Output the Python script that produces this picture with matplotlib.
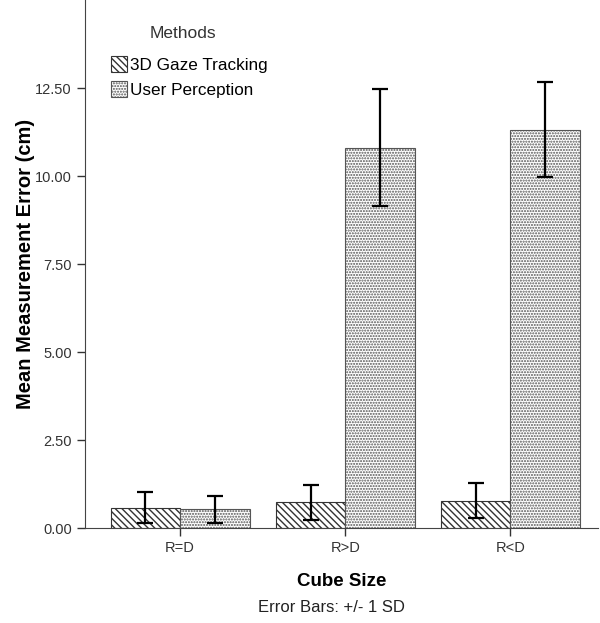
import matplotlib
matplotlib.use("Agg")
import matplotlib.pyplot as plt
import numpy as np

plt.rcParams['font.family'] = ['Liberation Sans', 'DejaVu Sans']
plt.rcParams['hatch.linewidth'] = 1.0

groups = ["R=D", "R>D", "R<D"]
methods = ["3D Gaze Tracking", "User Perception"]
gaze_mean = [0.58, 0.73, 0.78]
gaze_sd = [0.45, 0.49, 0.50]
user_mean = [0.53, 10.80, 11.32]
user_sd = [0.38, 1.66, 1.35]
yticks = [0.0, 2.5, 5.0, 7.5, 10.0, 12.5]

fig = plt.figure(figsize=(6.0, 6.23), dpi=100)
ax = fig.add_axes([85 / 600, 95 / 623, 513 / 600, 528 / 623])

x = np.arange(len(groups))
w = 0.42
ax.bar(x - w / 2, gaze_mean, w, color="white", edgecolor="#333333",
       hatch="\\\\\\\\\\", linewidth=0.8, label=methods[0])
ax.bar(x + w / 2, user_mean, w, color="white", edgecolor="#555555",
       hatch="......", linewidth=0.8, label=methods[1])
ax.errorbar(x - w / 2, gaze_mean, yerr=gaze_sd, fmt="none", ecolor="black",
            elinewidth=1.6, capsize=6, capthick=1.6)
ax.errorbar(x + w / 2, user_mean, yerr=user_sd, fmt="none", ecolor="black",
            elinewidth=1.6, capsize=6, capthick=1.6)

ax.set_xlim(-0.576, 2.53)
ax.set_ylim(0, 15.0)
ax.set_yticks(yticks)
ax.set_yticklabels([f"{v:.2f}" for v in yticks])
ax.set_xticks(x)
ax.set_xticklabels(groups)
ax.tick_params(axis="both", colors="#333333", labelcolor="#333333",
               labelsize=10.5, length=6, width=1)
ax.spines["top"].set_visible(False)
ax.spines["right"].set_visible(False)
for s in ("left", "bottom"):
    ax.spines[s].set_color("#444444")

ax.set_ylabel("Mean Measurement Error (cm)", fontsize=14.5, fontweight="bold",
              labelpad=0)
ax.set_xlabel("Cube Size", fontsize=13.5, fontweight="bold", labelpad=13)
fig.text(331 / 600, 1 - 607 / 623, "Error Bars: +/- 1 SD", ha="center",
         va="center", fontsize=12, color="#222222")

# legend title drawn separately so the gap above the entries can be set
fig.text(183 / 600, 1 - 33 / 623, "Methods", ha="center", va="center",
         fontsize=12.5, color="#333333")
ax.legend(loc="upper left", bbox_to_anchor=(26 / 513, 1 - 56 / 528),
          frameon=False, fontsize=12.3, handlelength=0.95, handleheight=1.1,
          handletextpad=0.15, labelspacing=0.45, borderpad=0, borderaxespad=0)

fig.savefig("out.png", dpi=100)
